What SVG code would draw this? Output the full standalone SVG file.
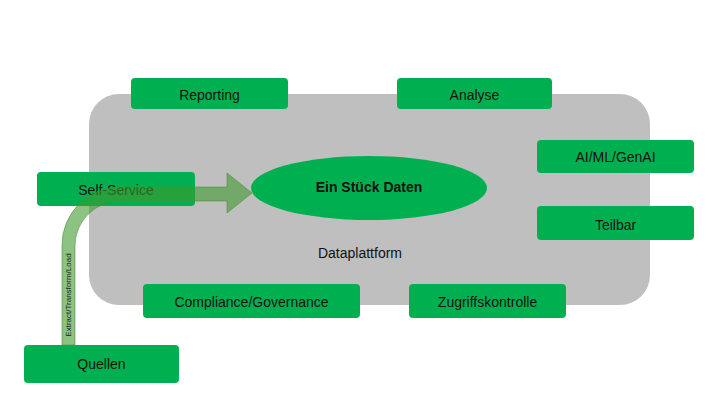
<svg xmlns="http://www.w3.org/2000/svg" width="720" height="405" viewBox="0 0 720 405">
<style>
.box{fill:#00B050;}
.t{font-family:"Liberation Sans",Arial,sans-serif;font-size:14px;fill:#111;text-anchor:middle;dominant-baseline:central;}
</style>
<rect width="720" height="405" fill="#fff"/>
<g id="platform">
<rect x="89" y="94" width="561" height="211" rx="30" fill="#BFBFBF"/>
<text class="t" x="360" y="253">Dataplattform</text>
</g>
<g id="reporting"><rect class="box" x="131" y="78" width="157" height="31" rx="4"/><text class="t" x="209.5" y="95">Reporting</text></g>
<g id="analyse"><rect class="box" x="397" y="78" width="155" height="31" rx="4"/><text class="t" x="474.5" y="95">Analyse</text></g>
<g id="aiml"><rect class="box" x="537" y="140" width="157" height="33" rx="4"/><text class="t" x="615.5" y="157">AI/ML/GenAI</text></g>
<g id="teilbar"><rect class="box" x="537" y="206" width="157" height="34" rx="4"/><text class="t" x="615.5" y="225">Teilbar</text></g>
<g id="selfservice"><rect class="box" x="37" y="172" width="158" height="34" rx="4"/><text class="t" x="116" y="190">Self-Service</text></g>
<g id="compliance"><rect class="box" x="143" y="284" width="217" height="34" rx="4"/><text class="t" x="251.5" y="302">Compliance/Governance</text></g>
<g id="zugriff"><rect class="box" x="409" y="284" width="157" height="34" rx="4"/><text class="t" x="487.5" y="302">Zugriffskontrolle</text></g>
<g id="quellen"><rect class="box" x="24" y="345" width="155" height="38" rx="4"/><text class="t" x="101.5" y="364">Quellen</text></g>
<g id="daten"><ellipse cx="369" cy="188" rx="118" ry="32" fill="#00B050"/><text class="t" x="369" y="187" font-weight="bold">Ein Stück Daten</text></g>
<g id="connectors">
<path d="M62,345 L62,245 A58,58 0 0 1 120,187 L227,187 L227,173 L252,193 L227,213 L227,201 L120,201 A45,45 0 0 0 75,246 L75,345 Z" fill="#3F9A2E" fill-opacity="0.6" stroke="#4C8C38" stroke-opacity="0.7" stroke-width="0.8"/>
<text x="68.5" y="295" transform="rotate(-90 68.5 295)" font-family="Liberation Sans,Arial,sans-serif" font-size="8" fill="#222" text-anchor="middle" dominant-baseline="central">Extract/Transform/Load</text>
</g>
</svg>
